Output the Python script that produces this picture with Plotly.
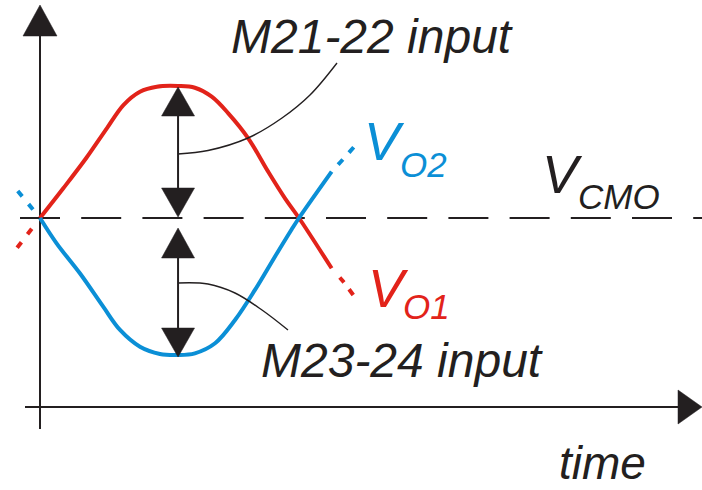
import plotly.graph_objects as go

W, H = 702, 490

# ---------------- data (time in half-periods, voltage in amplitude units around V_CMO) -------------
t_o1 = [0, 0.090, 0.180, 0.258, 0.322, 0.386, 0.451, 0.533, 0.598, 0.663, 0.727, 0.804, 0.881, 0.946, 1.0, 1.126]
v_o1 = [0, 0.225, 0.458, 0.679, 0.856, 0.957, 0.995, 1.0, 0.987, 0.919, 0.793, 0.604, 0.351, 0.149, 0, -0.381]
t_o2 = [0, 0.064, 0.154, 0.244, 0.309, 0.386, 0.463, 0.533, 0.598, 0.676, 0.753, 0.830, 0.907, 0.972, 1.0, 1.126]
v_o2 = [0, -0.192, -0.419, -0.672, -0.848, -0.975, -1.03, -1.038, -1.025, -0.949, -0.773, -0.545, -0.293, -0.085, 0, 0.351]

# dotted continuations of the waveforms
t_o1_ext_right = [1.126, 1.17, 1.212]
v_o1_ext_right = [-0.381, -0.48, -0.590]
t_o2_ext_right = [1.126, 1.17, 1.212]
v_o2_ext_right = [0.351, 0.445, 0.538]
t_o1_ext_left = [0, -0.089]
v_o1_ext_left = [0, -0.227]
t_o2_ext_left = [0, -0.089]
v_o2_ext_left = [0, 0.212]

v_cmo = 0.0

label_m21 = "M21-22 input"
label_m23 = "M23-24 input"
label_time = "time"
label_vo1 = ("V", "O1")
label_vo2 = ("V", "O2")
label_vcmo = ("V", "CMO")

# ---------------- styling / layout ----------------
RED = "#e2231a"
BLUE = "#0b8fd6"
BLACK = "#231f20"
FONT = "Liberation Sans"

# pixel mapping of the drawing area (origin of axes and scale)
X0, SX = 40.0, 259.0
Y0, SY = 218.0, 132.0
x_range = [(0 - X0) / SX, (W - X0) / SX]
y_range = [(Y0 - H) / SY, Y0 / SY]


def dx(p):
    return p / SX


def dy(p):
    return p / SY


def P(xp, yp):
    return ((xp - X0) / SX, (Y0 - yp) / SY)


fig = go.Figure()


def add_line(xs, ys, color, width, dash="solid", shape="linear"):
    fig.add_trace(go.Scatter(x=xs, y=ys, mode="lines",
                             line=dict(color=color, width=width, dash=dash, shape=shape),
                             hoverinfo="skip", showlegend=False))


def add_head(tip_x, tip_y, direction, hw=16.5, ln=30):
    if direction == "up":
        xs = [tip_x, tip_x - dx(hw), tip_x + dx(hw), tip_x]
        ys = [tip_y, tip_y - dy(ln), tip_y - dy(ln), tip_y]
    elif direction == "down":
        xs = [tip_x, tip_x - dx(hw), tip_x + dx(hw), tip_x]
        ys = [tip_y, tip_y + dy(ln), tip_y + dy(ln), tip_y]
    else:  # right
        xs = [tip_x, tip_x - dx(ln), tip_x - dx(ln), tip_x]
        ys = [tip_y, tip_y + dy(hw), tip_y - dy(hw), tip_y]
    fig.add_trace(go.Scatter(x=xs, y=ys, mode="lines", fill="toself",
                             fillcolor=BLACK, line=dict(color=BLACK, width=0.5),
                             hoverinfo="skip", showlegend=False))


# V_CMO dashed line
cm_start = P(20, 0)[0]
add_line([cm_start, x_range[1]], [v_cmo, v_cmo], BLACK, 2, dash="40px,21.2px")

# axes
y_axis_bottom = P(0, 429)[1]
y_axis_tip = P(0, 5)[1]
add_line([0, 0], [y_axis_bottom, y_axis_tip - dy(28)], BLACK, 2)
add_head(0, y_axis_tip, "up", hw=17, ln=31)
x_axis_v = P(0, 407)[1]
x_axis_left = P(25, 0)[0]
x_axis_tip = P(702, 0)[0]
add_line([x_axis_left, x_axis_tip - dx(20)], [x_axis_v, x_axis_v], BLACK, 2)
add_head(x_axis_tip, x_axis_v, "right", hw=17, ln=24)

# waveforms
add_line(t_o1, v_o1, RED, 4, shape="spline")
add_line(t_o2, v_o2, BLUE, 4, shape="spline")
add_line(t_o1_ext_right, v_o1_ext_right, RED, 4, dash="0px,12px,7px,8.5px,7px,100px", shape="spline")
add_line(t_o2_ext_right, v_o2_ext_right, BLUE, 4, dash="0px,9.5px,7px,9.5px,7px,100px", shape="spline")
add_line(t_o1_ext_left, v_o1_ext_left, RED, 4, dash="0px,13.5px,7px,10px,7px,100px")
add_line(t_o2_ext_left, v_o2_ext_left, BLUE, 4, dash="0px,11px,7px,10px,7px,100px")

# leader lines
lead1 = [P(178, 154), P(208, 150.5), P(248, 138), P(282, 118), P(310, 95), P(337, 63)]
add_line([p[0] for p in lead1], [p[1] for p in lead1], BLACK, 1.4, shape="spline")
lead2 = [P(178, 283), P(208, 284), P(235, 293), P(262, 310), P(288, 330)]
add_line([p[0] for p in lead2], [p[1] for p in lead2], BLACK, 1.4, shape="spline")

# amplitude arrows
t_peak = t_o1[v_o1.index(max(v_o1))]
v_peak = max(v_o1)
v_trough = min(v_o2)
add_line([t_peak, t_peak], [v_peak - dy(25), v_cmo + dy(25)], BLACK, 2)
add_head(t_peak, v_peak - dy(1), "up", ln=29)
add_head(t_peak, v_cmo + dy(1), "down", ln=29)
add_line([t_peak, t_peak], [v_cmo - dy(35), v_trough + dy(25)], BLACK, 2)
add_head(t_peak, v_cmo - dy(10), "up", ln=30)
add_head(t_peak, v_trough - dy(2), "down", ln=29)


def text(xp, yp, s, size, color=BLACK):
    x, y = P(xp, yp)
    fig.add_annotation(x=x, y=y, xref="x", yref="y", text="<i>" + s + "</i>",
                       showarrow=False, xanchor="left", yanchor="middle",
                       font=dict(family=FONT, size=size, color=color))


text(229, 36, label_m21, 48)
text(259, 360, label_m23, 48)
text(557, 463, label_time, 46)

text(362, 141, label_vo2[0], 54, BLUE)
text(398, 164, label_vo2[1], 35, BLUE)
text(540, 174, label_vcmo[0], 54)
text(576, 196, label_vcmo[1], 35)
text(366, 288, label_vo1[0], 54, RED)
text(401, 306, label_vo1[1], 35, RED)

fig.update_layout(
    width=W, height=H, autosize=False,
    margin=dict(l=0, r=0, t=0, b=0),
    paper_bgcolor="white", plot_bgcolor="white",
    xaxis=dict(range=x_range, visible=False, fixedrange=True),
    yaxis=dict(range=y_range, visible=False, fixedrange=True),
    showlegend=False,
)

fig.write_html("out.html", config={"displayModeBar": False},
               post_script="document.body.style.margin='0px';document.body.style.overflow='hidden';")
